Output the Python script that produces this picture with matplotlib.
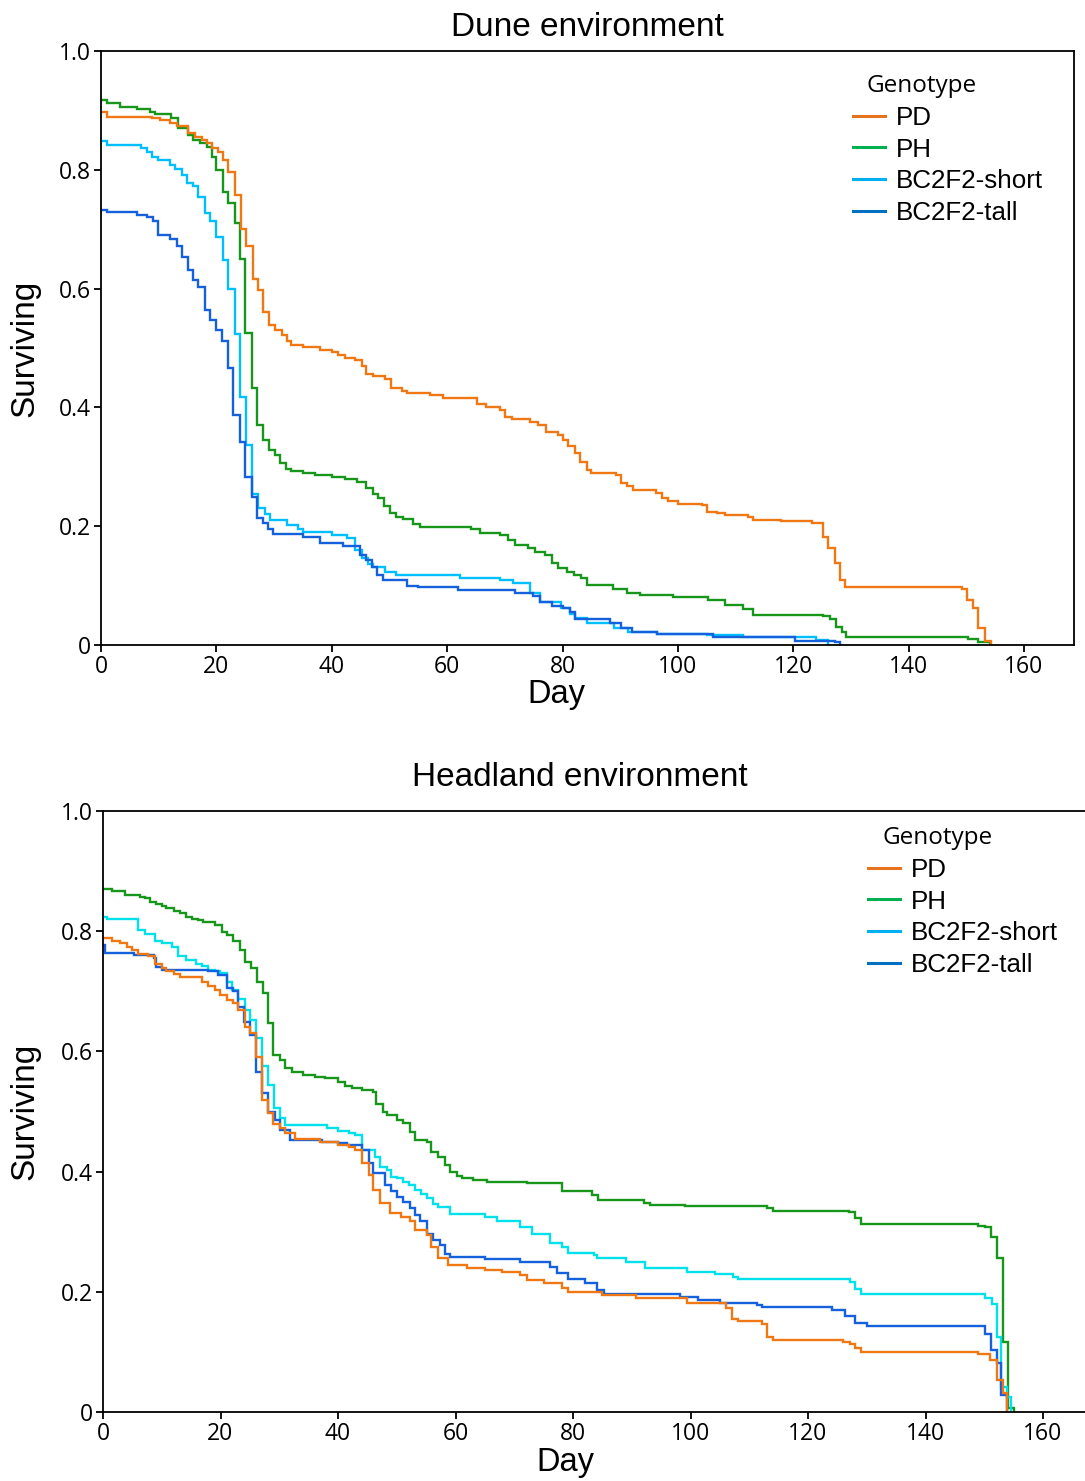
import matplotlib
matplotlib.use("Agg")
import matplotlib.pyplot as plt
from matplotlib.lines import Line2D
from matplotlib.ticker import FixedLocator, FuncFormatter

# ---------------- data (day, proportion surviving) ----------------
genotypes = ["PD", "PH", "BC2F2-short", "BC2F2-tall"]

dune_PD = [(0, 0.898), (1, 0.889), (8.8, 0.887), (10.2, 0.884), (12, 0.878), (13.1, 0.874),
           (15.1, 0.862), (16.3, 0.856), (17.5, 0.850), (18.3, 0.845), (19.2, 0.836), (20.3, 0.830),
           (21.2, 0.816), (22.1, 0.797), (23.3, 0.758), (24.3, 0.701), (25.2, 0.671), (26.3, 0.617),
           (27.3, 0.598), (28.1, 0.561), (29.1, 0.539), (30.2, 0.530), (31.3, 0.522), (32.2, 0.511),
           (33, 0.505), (35.1, 0.502), (38, 0.497), (40, 0.494), (41.1, 0.488), (42.3, 0.484),
           (44, 0.480), (45.2, 0.469), (46, 0.457), (47.2, 0.453), (49.2, 0.447), (50.2, 0.432),
           (52.1, 0.427), (53, 0.424), (57, 0.421), (59.3, 0.415), (65.1, 0.406), (66.8, 0.401),
           (69.2, 0.396), (70, 0.384), (71.2, 0.381), (74.4, 0.376), (75.8, 0.370), (77.2, 0.359),
           (79.2, 0.354), (80.1, 0.345), (81, 0.335), (82.1, 0.324), (83.1, 0.308), (84.2, 0.295),
           (85, 0.289), (89.3, 0.286), (90.2, 0.273), (91.1, 0.268), (92.3, 0.261), (96.2, 0.256),
           (97.2, 0.247), (98.3, 0.243), (100.1, 0.238), (104.1, 0.236), (105, 0.224), (106.7, 0.222),
           (108.1, 0.219), (112.2, 0.215), (113, 0.210), (117.9, 0.208), (123.2, 0.206), (125.2, 0.182),
           (126.1, 0.163), (127.2, 0.138), (128.1, 0.109), (129, 0.098), (149.2, 0.095), (150.1, 0.076),
           (151.2, 0.062), (152, 0.028), (153.2, 0.007), (154.2, 0.0)]

dune_PH = [(0, 0.917), (1, 0.913), (3.3, 0.906), (6.2, 0.902), (8.5, 0.898), (9.4, 0.894),
           (12.2, 0.888), (13.4, 0.871), (15.1, 0.859), (16, 0.850), (17.2, 0.845), (18.3, 0.839),
           (19.2, 0.822), (20, 0.800), (21.2, 0.763), (22.1, 0.744), (23.2, 0.711), (24.1, 0.649),
           (25, 0.525), (26.1, 0.432), (27.1, 0.370), (28.1, 0.345), (29.2, 0.328), (30.2, 0.320),
           (31.1, 0.306), (32.1, 0.296), (33, 0.293), (35.1, 0.290), (37.1, 0.286), (40, 0.282),
           (42.3, 0.279), (44.3, 0.274), (46, 0.264), (47.2, 0.255), (48.1, 0.247), (49.1, 0.234),
           (50.1, 0.222), (51.2, 0.216), (52.3, 0.212), (54.1, 0.204), (55.3, 0.199), (64.2, 0.195),
           (65.7, 0.188), (69.2, 0.185), (70.6, 0.177), (71.8, 0.168), (74.1, 0.163), (75.2, 0.157),
           (77, 0.152), (78.1, 0.138), (79.2, 0.130), (80.7, 0.123), (82, 0.118), (83.2, 0.112),
           (84.2, 0.101), (88.8, 0.095), (91.1, 0.087), (93.4, 0.084), (99.2, 0.080), (105.3, 0.076),
           (108.1, 0.067), (111.3, 0.061), (113, 0.051), (125.2, 0.048), (126.3, 0.043), (127.4, 0.031),
           (128.4, 0.022), (129.2, 0.013), (150.3, 0.010), (152, 0.005), (154.1, 0.0)]

dune_short = [(0, 0.849), (1, 0.842), (7, 0.836), (7.9, 0.830), (8.8, 0.822), (9.9, 0.816),
              (12, 0.808), (12.8, 0.802), (14, 0.791), (14.9, 0.777), (16, 0.772), (16.9, 0.755),
              (18, 0.727), (18.9, 0.713), (19.9, 0.687), (21.2, 0.648), (22.1, 0.600), (23.2, 0.524),
              (24.1, 0.418), (25.2, 0.337), (26.1, 0.255), (27.3, 0.230), (28.4, 0.221), (29.3, 0.210),
              (32.2, 0.202), (34.2, 0.195), (35.1, 0.191), (40, 0.185), (42.6, 0.180), (44, 0.160),
              (45.2, 0.146), (46.3, 0.137), (47.2, 0.132), (49.2, 0.123), (51.2, 0.118), (62.2, 0.112),
              (69.2, 0.109), (71.5, 0.105), (74.4, 0.087), (76.1, 0.073), (79.8, 0.062), (81.3, 0.052),
              (82.1, 0.045), (84.2, 0.037), (88.9, 0.028), (91.4, 0.022), (96.3, 0.019), (105, 0.016),
              (111.3, 0.013), (124, 0.008), (126.1, 0.0)]

dune_tall = [(0, 0.733), (1, 0.729), (6.2, 0.724), (7.9, 0.721), (9.1, 0.714), (9.9, 0.690),
             (12, 0.683), (13.1, 0.672), (14, 0.653), (15.1, 0.632), (16, 0.614), (16.9, 0.603),
             (18, 0.564), (18.9, 0.547), (19.9, 0.530), (20.9, 0.511), (22.1, 0.466), (22.9, 0.387),
             (24.1, 0.342), (25, 0.283), (26.1, 0.250), (27, 0.213), (28.1, 0.205), (29, 0.196),
             (29.9, 0.187), (35.1, 0.181), (38, 0.171), (42, 0.166), (44.9, 0.152), (46, 0.143),
             (46.9, 0.132), (47.8, 0.118), (48.9, 0.109), (53, 0.099), (55, 0.097), (61.9, 0.093),
             (71.8, 0.088), (74.9, 0.082), (76.1, 0.073), (78.1, 0.066), (80.1, 0.062), (81.3, 0.056),
             (82.1, 0.043), (88.2, 0.037), (90.2, 0.028), (92, 0.022), (96.3, 0.019), (106.1, 0.013),
             (120.3, 0.007), (127.2, 0.005), (128.1, 0.0)]

head_PD = [(0, 0.788), (1.5, 0.783), (2.9, 0.780), (4, 0.774), (4.9, 0.769), (6, 0.762),
           (7.7, 0.758), (8.9, 0.746), (10, 0.738), (10.8, 0.733), (12, 0.729), (13.1, 0.723),
           (16.8, 0.716), (17.9, 0.708), (19.1, 0.702), (19.9, 0.694), (21.1, 0.686), (22.2, 0.680),
           (23, 0.669), (24.1, 0.641), (25, 0.630), (26, 0.591), (27, 0.519), (28.1, 0.497),
           (29, 0.480), (30.1, 0.472), (31, 0.464), (32.7, 0.455), (36.9, 0.450), (40, 0.444),
           (41.8, 0.441), (42.9, 0.436), (44, 0.414), (45.2, 0.394), (46, 0.369), (47.1, 0.347),
           (48.9, 0.331), (50.8, 0.325), (52.3, 0.317), (53.1, 0.303), (55.1, 0.295), (55.9, 0.275),
           (57.1, 0.256), (58.8, 0.245), (61.9, 0.239), (65, 0.236), (67.9, 0.233), (71, 0.228),
           (72.1, 0.220), (75, 0.214), (78.1, 0.207), (79.2, 0.199), (84.9, 0.195), (90.8, 0.189),
           (99.4, 0.181), (106.1, 0.173), (107, 0.154), (108.1, 0.152), (112.1, 0.146), (113, 0.125),
           (114.1, 0.120), (126, 0.117), (127.1, 0.113), (128, 0.107), (129.1, 0.100), (149, 0.097),
           (151, 0.087), (152.1, 0.053), (153.2, 0.031), (153.9, 0.0)]

head_PH = [(0, 0.871), (1.5, 0.867), (3.7, 0.860), (6.3, 0.857), (7.1, 0.855), (8, 0.849),
           (9.1, 0.845), (10, 0.842), (10.8, 0.838), (12, 0.834), (13.1, 0.830), (14.2, 0.824),
           (15.1, 0.821), (16.2, 0.819), (17.1, 0.816), (19.1, 0.810), (20.2, 0.799), (21.1, 0.794),
           (22.2, 0.783), (23.3, 0.769), (24.2, 0.749), (25.2, 0.738), (26.2, 0.716), (27.2, 0.698),
           (28.1, 0.647), (29, 0.594), (30.1, 0.586), (31, 0.572), (32.1, 0.566), (34.1, 0.561),
           (36.1, 0.558), (37.8, 0.555), (40, 0.549), (41.2, 0.543), (42.3, 0.539), (44, 0.536),
           (46, 0.533), (46.5, 0.512), (47.6, 0.499), (48.4, 0.494), (50, 0.486), (51.1, 0.481),
           (52.3, 0.466), (53.1, 0.453), (55.1, 0.450), (55.9, 0.433), (57.1, 0.425), (58.2, 0.411),
           (59.1, 0.400), (60.2, 0.392), (61.1, 0.389), (63, 0.386), (65.3, 0.382), (72.1, 0.381),
           (78.1, 0.367), (83.2, 0.361), (84.3, 0.353), (92, 0.347), (93.1, 0.344), (99.1, 0.342),
           (113, 0.339), (114.1, 0.335), (126.9, 0.332), (128, 0.322), (129.1, 0.313), (149, 0.309),
           (150.1, 0.307), (151.1, 0.292), (152.1, 0.256), (153.2, 0.116), (154.1, 0.006), (155, 0.0)]

head_short = [(0, 0.824), (0.6, 0.821), (6, 0.802), (7.1, 0.796), (8.9, 0.783), (10, 0.780),
              (11.7, 0.774), (12.8, 0.758), (14.2, 0.752), (15.9, 0.745), (16.8, 0.742), (17.9, 0.735),
              (19.1, 0.733), (19.9, 0.730), (21.1, 0.716), (21.9, 0.702), (23, 0.688), (24.2, 0.669),
              (25.1, 0.652), (26, 0.622), (27, 0.575), (28.1, 0.544), (29.1, 0.505), (30.1, 0.489),
              (31, 0.478), (38.1, 0.472), (40, 0.467), (41.8, 0.465), (42.9, 0.461), (44, 0.436),
              (46.3, 0.425), (47.1, 0.408), (48.3, 0.403), (49.1, 0.391), (50, 0.389), (51.1, 0.383),
              (52, 0.378), (53.1, 0.369), (54.2, 0.362), (55.1, 0.356), (56.2, 0.346), (57.1, 0.341),
              (59.1, 0.329), (65, 0.325), (67, 0.317), (71, 0.308), (73, 0.297), (76.1, 0.281),
              (78.1, 0.275), (79.2, 0.265), (83.5, 0.261), (84, 0.256), (89.1, 0.250), (92.3, 0.239),
              (99.4, 0.233), (104.2, 0.229), (107.3, 0.225), (108.1, 0.222), (127.1, 0.217), (128, 0.204),
              (129.1, 0.196), (150.1, 0.189), (151.3, 0.180), (152.1, 0.125), (152.9, 0.041),
              (153.8, 0.025), (154.5, 0.0)]

head_tall = [(0, 0.777), (0.3, 0.763), (5.2, 0.760), (8.6, 0.755), (9, 0.741), (10, 0.735),
             (17.9, 0.733), (19.6, 0.727), (21.1, 0.705), (22.1, 0.700), (23, 0.674), (24, 0.649),
             (25, 0.627), (26, 0.566), (27, 0.530), (28.1, 0.500), (29.3, 0.486), (30.1, 0.469),
             (31.8, 0.453), (37.2, 0.450), (40, 0.447), (41.5, 0.445), (44, 0.436), (45.2, 0.414),
             (46, 0.397), (48, 0.378), (49.1, 0.367), (50, 0.358), (51.1, 0.350), (52.3, 0.339),
             (53.1, 0.328), (54, 0.317), (55.1, 0.297), (56.2, 0.286), (57.4, 0.278), (58.2, 0.263),
             (59.1, 0.258), (65, 0.254), (71, 0.250), (76.1, 0.242), (77.2, 0.231), (79.2, 0.222),
             (82, 0.214), (84, 0.203), (85.2, 0.196), (98.2, 0.192), (101.3, 0.186), (105, 0.182),
             (111.3, 0.178), (112.1, 0.174), (124, 0.169), (126.3, 0.159), (128, 0.148), (130, 0.143),
             (150.1, 0.130), (151.1, 0.103), (152.1, 0.081), (152.9, 0.028), (153.8, 0.0)]

x_ticks = [0, 20, 40, 60, 80, 100, 120, 140, 160]
y_ticks = [0, 0.2, 0.4, 0.6, 0.8, 1.0]
y_tick_labels = ["0", "0.2", "0.4", "0.6", "0.8", "1.0"]

panels = [
    ("Dune environment", {"PD": dune_PD, "PH": dune_PH, "BC2F2-short": dune_short, "BC2F2-tall": dune_tall}),
    ("Headland environment", {"PD": head_PD, "PH": head_PH, "BC2F2-short": head_short, "BC2F2-tall": head_tall}),
]

# ---------------- styling ----------------
line_colors_top = {"PD": "#F07814", "PH": "#18961C", "BC2F2-short": "#00BFFF", "BC2F2-tall": "#1560DC"}
line_colors_bot = {"PD": "#F07814", "PH": "#18961C", "BC2F2-short": "#00E1EC", "BC2F2-tall": "#1560DC"}
legend_colors = {"PD": "#E8731E", "PH": "#00B050", "BC2F2-short": "#00B0F0", "BC2F2-tall": "#0070C0"}
draw_order = ["PH", "BC2F2-short", "BC2F2-tall", "PD"]

W, H = 1085, 1481
fig = plt.figure(figsize=(W / 100, H / 100), dpi=100)

# axes geometry in pixels: (left, right, top, bottom, px per day)
geoms = [
    (101, 1074, 51, 645, (1024 - 101) / 160),
    (103, 1088, 811, 1412, (1043 - 103) / 160),
]
title_pos = [(587, 27), (580, 777)]
xlabel_pos = [(556, 695), (565, 1463)]
ylabel_x = [25, 25]
legend_pos = [(853, 106, 867, 86), (868, 858, 882, 838)]

label_font = "Liberation Sans"
tick_font = "Open Sans"

for i, ((title, series), (l, r, t, b, ppd)) in enumerate(zip(panels, geoms)):
    ax = fig.add_axes([l / W, 1 - b / H, (r - l) / W, (b - t) / H])
    colors = line_colors_top if i == 0 else line_colors_bot
    for g in draw_order:
        pts = series[g]
        days = [p[0] for p in pts]
        surv = [p[1] for p in pts]
        ax.step(days, surv, where="post", color=colors[g], lw=1.7, solid_joinstyle="miter")
    ax.set_xlim(0, (r - l) / ppd)
    ax.set_ylim(0, 1.0)
    ax.xaxis.set_major_locator(FixedLocator(x_ticks))
    ax.yaxis.set_major_locator(FixedLocator(y_ticks))
    ax.yaxis.set_major_formatter(FuncFormatter(
        lambda v, pos: y_tick_labels[y_ticks.index(round(v, 1))] if round(v, 1) in y_ticks else ""))
    ax.xaxis.set_major_formatter(FuncFormatter(lambda v, pos: f"{int(round(v))}"))
    for sp in ax.spines.values():
        sp.set_linewidth(1.3)
        sp.set_color("black")
    ax.tick_params(axis="both", direction="out", length=5, width=1.3, labelsize=16.5, pad=2, colors="black")
    for lab in ax.get_xticklabels() + ax.get_yticklabels():
        lab.set_fontfamily(tick_font)

    ax.set_xlabel("Day", fontsize=23.5, fontfamily=label_font)
    ax.set_ylabel("Surviving", fontsize=24, fontfamily=label_font)
    ax.xaxis.label.set_va("center")
    ax.yaxis.label.set_va("center")
    xl_x, xl_y = xlabel_pos[i]
    ax.xaxis.set_label_coords((xl_x - l) / (r - l), (b - xl_y) / (b - t))
    ax.yaxis.set_label_coords((ylabel_x[i] - l) / (r - l), 0.5)

    tx, ty = title_pos[i]
    ax.text((tx - l) / (r - l), (b - ty) / (b - t), title, transform=ax.transAxes,
            ha="center", va="center", fontsize=24, fontfamily=label_font)

    hx, hy, gx, gy = legend_pos[i]
    handles = [Line2D([0], [0], color=legend_colors[g], lw=2.2) for g in genotypes]
    ax.legend(handles, genotypes, loc="upper left",
              bbox_to_anchor=((hx - l) / (r - l), (b - hy) / (b - t)),
              frameon=False, borderpad=0, borderaxespad=0, handlelength=1.24,
              handletextpad=0.42, labelspacing=0.29,
              prop={"family": label_font, "size": 18.7})
    ax.text((gx - l) / (r - l), (b - gy) / (b - t), "Genotype", transform=ax.transAxes,
            ha="left", va="center", fontsize=17.5, fontfamily=tick_font)

fig.savefig("out.png", dpi=100)
